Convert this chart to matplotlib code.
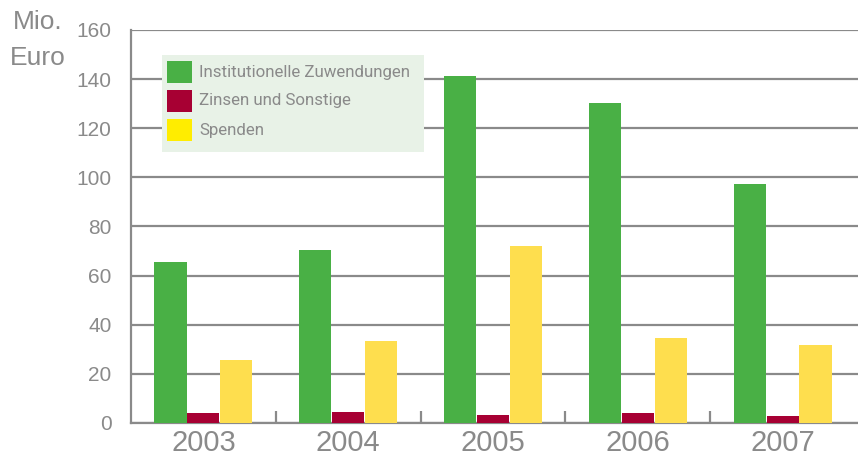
import matplotlib
matplotlib.use("Agg")
import matplotlib.pyplot as plt
from matplotlib.patches import Rectangle
import numpy as np

years = ["2003", "2004", "2005", "2006", "2007"]
series_names = ["Institutionelle Zuwendungen", "Zinsen und Sonstige", "Spenden"]
institutionelle = [65.6, 70.4, 141.3, 130.3, 97.3]
zinsen = [4.0, 4.5, 3.3, 4.0, 2.9]
spenden = [25.6, 33.4, 72.0, 34.6, 31.8]
yticks = [0, 20, 40, 60, 80, 100, 120, 140, 160]

bar_colors = ["#49B045", "#A70033", "#FEDE4E"]
legend_colors = ["#49B045", "#A70033", "#FFED00"]
gray = "#8A8A8A"

fig = plt.figure(figsize=(8.58, 4.59), dpi=100)
ax = fig.add_axes([131/858, 1-423/459, (858-131)/858, (423-30)/459])

x = np.arange(len(years))
w = 0.222
offsets = [-0.227, 0.0, 0.227]
for vals, off, c in zip([institutionelle, zinsen, spenden], offsets, bar_colors):
    ax.bar(x + off, vals, width=w, color=c, zorder=3, linewidth=0)

ax.set_xlim(-0.5, len(years) - 0.5 + 0.02)
ax.set_ylim(0, 160)
ax.set_yticks(yticks)
ax.yaxis.grid(True, color=gray, linewidth=1.6, zorder=1)
ax.set_axisbelow(True)
for s in ["top", "right"]:
    ax.spines[s].set_visible(False)
ax.spines["left"].set_color(gray)
ax.spines["left"].set_linewidth(1.6)
ax.spines["bottom"].set_color(gray)
ax.spines["bottom"].set_linewidth(1.6)
ax.tick_params(axis="y", length=0, labelsize=15, labelcolor=gray, pad=14)
for lab in ax.get_yticklabels():
    lab.set_fontfamily("Liberation Sans")
ax.set_xticks(x)
ax.set_xticklabels(years, fontsize=21, color=gray, fontfamily="Liberation Sans")
ax.tick_params(axis="x", length=0, pad=4)
# category boundary ticks
ax.set_xticks(np.arange(len(years) - 1) + 0.5, minor=True)
ax.tick_params(axis="x", which="minor", direction="in", length=9, width=1.6, color=gray)

fig.text(38/858, 1-22/459, "Mio.", fontsize=19, color=gray, ha="center", va="center",
         fontfamily="Liberation Sans")
fig.text(38/858, 1-58/459, "Euro", fontsize=19, color=gray, ha="center", va="center",
         fontfamily="Liberation Sans")

# legend box
fig.patches.append(Rectangle((162/858, 1-152/459), (424-162)/858, (152-55)/459,
                             transform=fig.transFigure, facecolor="#E8F2E7",
                             edgecolor="none", zorder=5))
rows = [72, 101, 130]
for name, c, r in zip(series_names, legend_colors, rows):
    fig.patches.append(Rectangle((167/858, 1-(r+11)/459), 25/858, 22/459,
                                 transform=fig.transFigure, facecolor=c,
                                 edgecolor="none", zorder=6))
    fig.text(199/858, 1-r/459, name, fontsize=12.2, color=gray, va="center", ha="left",
             fontfamily="Roboto", zorder=7)

fig.savefig("out.png", dpi=100)
